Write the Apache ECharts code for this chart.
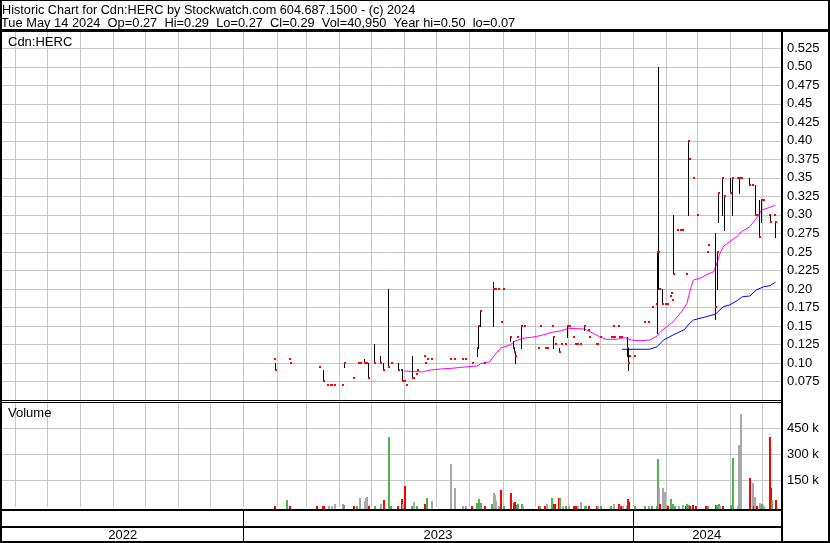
<!DOCTYPE html>
<html><head><meta charset="utf-8">
<script src="https://cdn.jsdelivr.net/npm/echarts@6/dist/echarts.min.js"></script>
<style>html,body{margin:0;padding:0;background:#fff}#c{width:830px;height:543px}</style>
</head><body><div id="c"></div>
<script>
// ---------- DATA ----------
const titleLine1 = 'Historic Chart for Cdn:HERC by Stockwatch.com 604.687.1500 - (c) 2024';
const titleLine2 = 'Tue May 14 2024  Op=0.27  Hi=0.29  Lo=0.27  Cl=0.29  Vol=40,950  Year hi=0.50  lo=0.07';
const symbolLabel = 'Cdn:HERC';
const volumeLabel = 'Volume';
const yearLabels = ['2022', '2023', '2024'];
const yearStarts = ['2023-01-01', '2024-01-01'];

const priceDates = [
'2023-01-30','2023-01-31','2023-02-13','2023-02-14','2023-03-13','2023-03-17','2023-03-20','2023-03-23','2023-03-24','2023-03-27',
'2023-04-03','2023-04-05','2023-04-14','2023-04-18','2023-04-20','2023-04-24','2023-04-25','2023-04-26','2023-04-28',
'2023-05-03','2023-05-09','2023-05-12','2023-05-17','2023-05-19','2023-05-26','2023-05-29','2023-05-30',
'2023-06-01','2023-06-02','2023-06-08','2023-06-09','2023-06-12','2023-06-13','2023-06-19','2023-06-20','2023-06-22','2023-06-26',
'2023-07-14','2023-07-17','2023-07-25','2023-07-28',
'2023-08-03','2023-08-08','2023-08-09','2023-08-11','2023-08-15','2023-08-23','2023-08-24','2023-08-25','2023-08-28','2023-08-31',
'2023-09-01','2023-09-08','2023-09-11','2023-09-12','2023-09-13','2023-09-15','2023-09-18','2023-09-21',
'2023-10-04','2023-10-06','2023-10-11','2023-10-13','2023-10-17','2023-10-18','2023-10-20','2023-10-24','2023-10-26','2023-10-30','2023-10-31',
'2023-11-02','2023-11-06','2023-11-08','2023-11-10','2023-11-13','2023-11-16','2023-11-20','2023-11-21','2023-11-28','2023-11-29',
'2023-12-01','2023-12-12','2023-12-13','2023-12-14','2023-12-15','2023-12-18','2023-12-19','2023-12-20','2023-12-21','2023-12-27','2023-12-28','2023-12-29',
'2024-01-02','2024-01-12','2024-01-15','2024-01-19','2024-01-23','2024-01-24','2024-01-25','2024-01-26','2024-01-29','2024-01-31',
'2024-02-02','2024-02-05','2024-02-06','2024-02-07','2024-02-08','2024-02-12','2024-02-14','2024-02-16','2024-02-20','2024-02-22','2024-02-23','2024-02-27',
'2024-03-01','2024-03-11','2024-03-12','2024-03-18','2024-03-20','2024-03-21','2024-03-25','2024-03-27',
'2024-04-01','2024-04-03','2024-04-08','2024-04-10','2024-04-12','2024-04-19','2024-04-22','2024-04-25','2024-04-26','2024-04-29','2024-04-30',
'2024-05-02','2024-05-08','2024-05-09','2024-05-13','2024-05-14'
];
const priceLow = [
.105,.09,.105,.10,.095,.075,.07,.07,.07,.07,
.07,.095,.08,.10,.10,.10,.10,.10,.08,
.10,.10,.09,.095,.10,.09,.09,.075,
.075,.07,.08,.08,.085,.09,.11,.10,.105,.105,
.105,.105,.105,.105,
.10,.11,.12,.15,.10,.15,.20,.20,.20,.155,
.20,.13,.12,.115,.10,.135,.12,.15,
.12,.15,.12,.12,.15,.12,.125,.115,.125,.125,.135,
.15,.135,.125,.125,.125,.145,.145,.135,.125,.125,
.135,.135,.135,.15,.135,.15,.135,.135,.135,.11,.09,.11,
.11,.155,.155,.175,.18,.14,.20,.20,.18,.18,
.18,.19,.195,.185,.22,.28,.28,.28,.22,.30,.375,.35,
.30,.25,.26,.16,.20,.29,.30,.28,
.33,.30,.35,.33,.35,.34,.34,.30,.30,.27,.29,
.32,.30,.29,.30,.27
];
const priceHigh = [
.105,.10,.105,.10,.095,.09,.07,.07,.07,.07,
.07,.10,.08,.10,.10,.105,.10,.10,.10,
.125,.11,.10,.20,.10,.10,.09,.09,
.075,.07,.11,.08,.085,.09,.11,.10,.105,.105,
.105,.105,.105,.105,
.10,.12,.15,.17,.10,.21,.20,.20,.20,.155,
.20,.135,.13,.12,.115,.135,.15,.15,
.12,.15,.12,.12,.15,.135,.125,.12,.125,.125,.15,
.15,.135,.125,.125,.125,.15,.145,.135,.125,.125,
.135,.135,.135,.15,.135,.15,.135,.135,.135,.135,.12,.11,
.11,.155,.155,.175,.18,.25,.50,.20,.20,.18,
.18,.19,.195,.185,.30,.28,.28,.28,.22,.40,.375,.35,
.30,.25,.26,.275,.25,.33,.35,.325,
.35,.35,.35,.35,.35,.35,.34,.34,.30,.32,.32,
.32,.30,.30,.30,.29
];
const priceClose = [
.105,.09,.105,.10,.095,.075,.07,.07,.07,.07,
.07,.10,.08,.10,.10,.10,.10,.10,.08,
.10,.10,.09,.095,.10,.09,.09,.075,
.075,.07,.08,.08,.085,.09,.11,.10,.105,.105,
.105,.105,.105,.105,
.10,.12,.15,.17,.10,.20,.20,.20,.20,.155,
.20,.135,.12,.115,.11,.135,.15,.15,
.12,.15,.12,.12,.15,.135,.125,.115,.125,.125,.15,
.15,.135,.125,.125,.125,.15,.145,.135,.125,.125,
.135,.135,.135,.15,.135,.15,.135,.135,.135,.12,.10,.11,
.11,.155,.155,.175,.18,.25,.25,.20,.18,.18,
.18,.19,.195,.185,.22,.28,.28,.28,.22,.40,.375,.35,
.30,.25,.26,.175,.25,.33,.35,.325,
.33,.35,.35,.35,.35,.34,.34,.30,.30,.27,.32,
.32,.30,.29,.30,.29
];

// magenta moving average
const maShortDates = ['2023-06-01','2023-06-18','2023-06-25','2023-07-06','2023-07-17','2023-07-23','2023-08-09','2023-08-11','2023-08-20','2023-08-23',
'2023-08-30','2023-09-08','2023-09-13','2023-09-20','2023-09-28','2023-10-07','2023-10-17','2023-10-25','2023-11-02','2023-11-16',
'2023-11-19','2023-11-25','2023-12-01','2023-12-07','2023-12-17','2023-12-23','2023-12-26','2023-12-31','2024-01-08','2024-01-17',
'2024-01-24','2024-01-27','2024-02-02','2024-02-08','2024-02-16','2024-02-21','2024-02-24','2024-02-27','2024-03-04','2024-03-10',
'2024-03-17','2024-03-19','2024-03-23','2024-03-26','2024-04-01','2024-04-08','2024-04-12','2024-04-20','2024-04-26','2024-05-01',
'2024-05-06','2024-05-12','2024-05-14'];
const maShortValues = [.089,.088,.0905,.092,.093,.094,.096,.099,.1017,.1077,
.12,.1243,.1297,.1333,.1347,.137,.1414,.1432,.1468,.146,
.1445,.14,.1355,.132,.132,.134,.1337,.131,.130,.131,
.1364,.1422,.149,.1557,.1693,.1806,.1986,.2121,.2144,.2188,
.2233,.230,.2481,.257,.2638,.2706,.2773,.2841,.2954,.3066,
.3089,.312,.313];

// blue moving average
const maLongDates = ['2023-12-22','2024-01-17','2024-01-24','2024-01-30','2024-02-08','2024-02-19','2024-02-22','2024-02-27','2024-03-10','2024-03-19',
'2024-03-26','2024-04-01','2024-04-08','2024-04-13','2024-04-20','2024-04-26','2024-05-03','2024-05-09','2024-05-14'];
const maLongValues = [.1185,.1185,.122,.131,.1378,.1455,.1513,.158,.1625,.1662,
.176,.1783,.1841,.1895,.1905,.1986,.203,.2044,.209];

// volume (shares) and change of close vs previous close: 1 up, -1 down, 0 unchanged
const volDates = [
'2023-01-30','2023-02-10','2023-02-13','2023-03-10','2023-03-16','2023-03-17','2023-03-21','2023-03-24','2023-03-27',
'2023-04-03','2023-04-04','2023-04-14','2023-04-17','2023-04-19','2023-04-24','2023-04-25','2023-04-26','2023-04-28',
'2023-05-03','2023-05-09','2023-05-12','2023-05-17','2023-05-18','2023-05-25','2023-05-29','2023-05-30',
'2023-06-01','2023-06-07','2023-06-09','2023-06-12','2023-06-19','2023-06-21','2023-06-26',
'2023-07-14','2023-07-17','2023-07-25','2023-07-28',
'2023-08-02','2023-08-07','2023-08-09','2023-08-11','2023-08-15','2023-08-21','2023-08-23','2023-08-24','2023-08-25','2023-08-28','2023-08-30',
'2023-09-01','2023-09-08','2023-09-11','2023-09-12','2023-09-13','2023-09-14','2023-09-15','2023-09-18','2023-09-19',
'2023-10-04','2023-10-05','2023-10-10','2023-10-12','2023-10-16','2023-10-18','2023-10-19','2023-10-23','2023-10-24','2023-10-27','2023-10-30',
'2023-11-01','2023-11-06','2023-11-08','2023-11-10','2023-11-13','2023-11-16','2023-11-17','2023-11-20','2023-11-28','2023-11-29',
'2023-12-01','2023-12-11','2023-12-14','2023-12-18','2023-12-19','2023-12-20','2023-12-22','2023-12-26','2023-12-27','2023-12-28',
'2024-01-02','2024-01-12','2024-01-15','2024-01-18','2024-01-23','2024-01-24','2024-01-25','2024-01-26','2024-01-29','2024-01-30',
'2024-02-01','2024-02-02','2024-02-05','2024-02-07','2024-02-09','2024-02-13','2024-02-16','2024-02-19','2024-02-20','2024-02-22','2024-02-23','2024-02-26','2024-02-29',
'2024-03-09','2024-03-11','2024-03-18','2024-03-19','2024-03-21','2024-03-22','2024-03-25',
'2024-04-01','2024-04-03','2024-04-08','2024-04-09','2024-04-11','2024-04-19','2024-04-22','2024-04-23','2024-04-24','2024-04-26','2024-04-29','2024-04-30',
'2024-05-02','2024-05-08','2024-05-09','2024-05-10','2024-05-14'
];
const volumes = [
5000,40000,5000,5000,8000,8000,8000,8000,17000,
17000,10000,5000,8000,51000,36000,51000,57000,8000,
5000,15000,40000,401000,8000,8000,46000,15000,
120000,5000,29000,8000,15000,51000,34000,
246000,109000,5000,8000,
8000,23000,46000,23000,5000,15000,80000,69000,34000,5000,97000,
5000,80000,23000,29000,10000,8000,17000,17000,8000,
5000,8000,8000,17000,51000,15000,15000,51000,51000,5000,8000,
5000,5000,5000,5000,29000,5000,8000,8000,5000,5000,
5000,8000,15000,17000,8000,5000,5000,5000,46000,29000,
5000,5000,5000,5000,8000,275000,109000,17000,109000,86000,
10000,8000,46000,15000,5000,5000,10000,5000,17000,10000,5000,10000,5000,
5000,5000,10000,10000,15000,5000,5000,
10000,281000,8000,355000,532000,166000,137000,5000,57000,5000,23000,15000,
5000,401000,109000,40000,40950
];
const volChange = [
-1,1,-1,-1,-1,-1,0,0,0,
0,1,-1,1,0,0,0,0,-1,
1,0,-1,1,1,-1,-1,0,
-1,1,0,1,-1,1,0,
0,0,0,0,
-1,1,1,1,-1,1,0,0,0,0,-1,
1,-1,-1,-1,-1,1,1,1,0,
-1,1,-1,0,1,-1,-1,-1,1,0,1,
0,-1,-1,0,0,1,1,-1,-1,0,
1,1,0,-1,1,-1,0,0,-1,-1,
1,1,0,1,1,1,0,-1,0,0,
0,-1,1,1,1,0,0,-1,1,1,-1,-1,-1,
-1,1,-1,1,1,0,-1,
1,1,0,0,0,-1,0,-1,0,-1,0,1,
0,-1,-1,1,-1
];

// ---------- CHART ----------
const ts = s => { const p = s.split('-').map(Number); return Date.UTC(p[0], p[1] - 1, p[2]); };
const xMin = Date.UTC(2022, 4, 19, 11);
const xMax = Date.UTC(2024, 4, 19, 5);
const monthTicks = [];
for (let y = 2022, m = 5; Date.UTC(y, m, 1) < xMax; m++) { if (m > 11) { m = 0; y++; } monthTicks.push(Date.UTC(y, m, 1)); }

const FONT = '"Liberation Sans", Arial, sans-serif';
const GRID = '#c6c6c6';
const UP = '#4cb54c', DOWN = '#ff0000', FLAT = '#a8a8a8';

const fmtPrice = v => { let s = v.toFixed(3); if (s.endsWith('0')) s = s.slice(0, -1); return s; };

const priceRows = priceDates.map((d, i) => [ts(d), priceLow[i], priceHigh[i], priceClose[i]]);
const volRows = volDates.map((d, i) => [ts(d), volumes[i], volChange[i]]);

const gridRender = (params, api) => {
  const x = Math.round(api.coord([api.value(0), api.value(1)])[0]) + 0.5;
  const cs = params.coordSys;
  return { type: 'line', shape: { x1: x, y1: cs.y, x2: x, y2: cs.y + cs.height }, style: { stroke: GRID, lineWidth: 1 } };
};

const chart = echarts.init(document.getElementById('c'), null, { renderer: 'canvas' });
chart.setOption({
  animation: false,
  backgroundColor: '#fff',
  grid: [
    { left: 2, top: 31, width: 779, height: 369 },
    { left: 2, top: 402, width: 779, height: 105 }
  ],
  xAxis: [
    { type: 'value', gridIndex: 0, min: xMin, max: xMax, show: false },
    { type: 'value', gridIndex: 1, min: xMin, max: xMax, show: false }
  ],
  yAxis: [
    { type: 'value', gridIndex: 0, position: 'right', min: 0.05, max: 0.5484, interval: 0.025,
      axisLine: { show: false }, axisTick: { show: false },
      axisLabel: { margin: 6, color: '#000', fontFamily: FONT, fontSize: 13, showMinLabel: false, showMaxLabel: false, formatter: fmtPrice },
      splitLine: { show: true, showMinLine: false, showMaxLine: false, lineStyle: { color: GRID, width: 1 } } },
    { type: 'value', gridIndex: 1, position: 'right', min: 0, max: 598000, interval: 150000,
      axisLine: { show: false }, axisTick: { show: false },
      axisLabel: { margin: 6, color: '#000', fontFamily: FONT, fontSize: 13, showMinLabel: false, showMaxLabel: false, formatter: v => (v / 1000) + ' k' },
      splitLine: { show: true, showMinLine: false, showMaxLine: false, lineStyle: { color: GRID, width: 1 } } }
  ],
  series: [
    { type: 'custom', xAxisIndex: 0, yAxisIndex: 0, silent: true, z: 1, clip: true,
      data: monthTicks.map(t => [t, 0.3]), renderItem: gridRender },
    { type: 'custom', xAxisIndex: 1, yAxisIndex: 1, silent: true, z: 1, clip: true,
      data: monthTicks.map(t => [t, 100000]), renderItem: gridRender },
    { type: 'line', xAxisIndex: 0, yAxisIndex: 0, silent: true, z: 3, symbol: 'none',
      data: maShortDates.map((d, i) => [ts(d), maShortValues[i]]), lineStyle: { color: '#ff00ff', width: 1 } },
    { type: 'line', xAxisIndex: 0, yAxisIndex: 0, silent: true, z: 3, symbol: 'none',
      data: maLongDates.map((d, i) => [ts(d), maLongValues[i]]), lineStyle: { color: '#0000ff', width: 1 } },
    { type: 'custom', xAxisIndex: 0, yAxisIndex: 0, silent: true, z: 5, clip: true,
      encode: { x: 0, y: [1, 2, 3] }, data: priceRows,
      renderItem: (params, api) => {
        const t = api.value(0), lo = api.value(1), hi = api.value(2), cl = api.value(3);
        const pLo = api.coord([t, lo]), pHi = api.coord([t, hi]), pC = api.coord([t, cl]);
        const x = Math.round(pLo[0]);
        const children = [];
        if (hi > lo) {
          const yT = Math.round(pHi[1]), yB = Math.round(pLo[1]);
          children.push({ type: 'rect', shape: { x: x, y: yT, width: 1, height: yB - yT + 1 }, style: { fill: '#000' } });
        }
        children.push({ type: 'rect', shape: { x: x, y: Math.round(pC[1]) - 1, width: 2, height: 2 }, style: { fill: '#f00' } });
        return { type: 'group', children };
      } },
    { type: 'custom', xAxisIndex: 1, yAxisIndex: 1, silent: true, z: 5, clip: false,
      encode: { x: 0, y: 1 }, data: volRows,
      renderItem: (params, api) => {
        const t = api.value(0), v = api.value(1), c = api.value(2);
        const pT = api.coord([t, v]), p0 = api.coord([t, 0]);
        const x = Math.round(pT[0]);
        const yT = Math.round(pT[1]), yB = Math.round(p0[1]) + 2;
        return { type: 'rect', shape: { x: x, y: yT, width: 2, height: Math.max(1, yB - yT) },
                 style: { fill: c > 0 ? UP : (c < 0 ? DOWN : FLAT) } };
      } }
  ]
});

// frame, titles and year band (positions of year separators from the x scale)
const gx = t => chart.convertToPixel({ xAxisIndex: 0 }, t);
const xL = gx(xMin), xR = gx(xMax);
const sepX = yearStarts.map(d => gx(ts(d)));
const bounds = [xL].concat(sepX, [xR]);
const black = (x, y, w, h) => ({ type: 'rect', z: 100, silent: true, shape: { x, y, width: w, height: h }, style: { fill: '#000' } });
const txt = (text, x, y, align, size) => ({ type: 'text', z: 101, silent: true, x, y,
  style: { text, font: (size || 13) + 'px ' + FONT, fill: '#000', textAlign: align || 'left', textVerticalAlign: 'middle' } });

const g = [
  black(0, 0, 830, 1), black(0, 0, 2, 543), black(828, 0, 2, 543), black(0, 541, 830, 2),
  black(0, 29, 830, 3), black(781, 29, 2, 514),
  black(0, 400, 781, 1), black(0, 402, 781, 1),
  black(0, 509, 781, 2), black(0, 526, 781, 2),
  txt(titleLine1, 2, 10, 'left', 12.7), txt(titleLine2, 1, 23, 'left', 12.85),
  txt(symbolLabel, 8, 42), txt(volumeLabel, 8, 413)
];
sepX.forEach(x => g.push(black(Math.round(x), 511, 1, 30)));
yearLabels.forEach((lab, i) => g.push(txt(lab, (bounds[i] + bounds[i + 1]) / 2, 535, 'center')));
chart.setOption({ graphic: g });
</script>
</body></html>
